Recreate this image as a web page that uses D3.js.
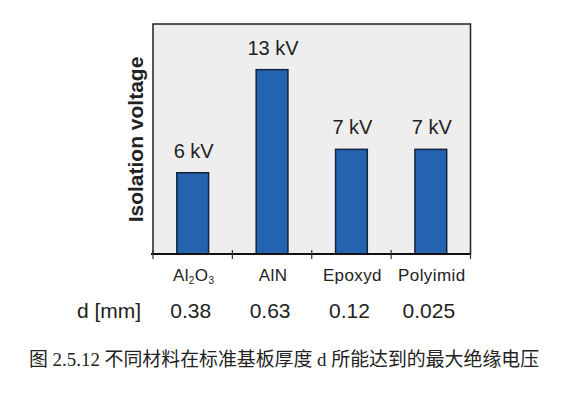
<!DOCTYPE html>
<html><head><meta charset="utf-8">
<script src="https://cdn.jsdelivr.net/npm/d3@7/dist/d3.min.js"></script>
<style>body{margin:0;background:#fff}svg{display:block}</style>
</head><body>
<script>
const categories = ["Al2O3", "AlN", "Epoxyd", "Polyimid"];
const barValues = [5.73, 13, 7.38, 7.38];       // bar heights on unlabelled kV axis
const valueLabels = ["6 kV", "13 kV", "7 kV", "7 kV"];
const thickness = ["0.38", "0.63", "0.12", "0.025"];
const yLabel = "Isolation voltage";
const rowLabel = "d [mm]";
const caption = "图 2.5.12 不同材料在标准基板厚度 d 所能达到的最大绝缘电压";

const W = 588, H = 395;
const svg = d3.select("body").append("svg").attr("width", W).attr("height", H);
const pLeft = 153, pRight = 470.5, pTop = 24, pBottom = 254;

const x = d3.scaleBand().domain(categories).range([pLeft, pRight]).padding(0);
const y = d3.scaleLinear().domain([0, 16.22]).range([pBottom, pTop]);

// plot background + frame
svg.append("rect").attr("x", pLeft).attr("y", pTop).attr("width", pRight - pLeft).attr("height", pBottom - pTop)
  .attr("fill", "#eeeeee").attr("stroke", "#222").attr("stroke-width", 1.5);

// bars
const bw = x.bandwidth() * 0.4;
svg.selectAll("rect.bar").data(categories).join("rect").attr("class", "bar")
  .attr("x", d => x(d) + x.bandwidth() / 2 - bw / 2)
  .attr("y", (d, i) => y(barValues[i]))
  .attr("width", bw)
  .attr("height", (d, i) => y(0) - y(barValues[i]))
  .attr("fill", "#2463b0").attr("stroke", "#13223d").attr("stroke-width", 1.5);

// value labels
svg.selectAll("text.val").data(categories).join("text").attr("class", "val")
  .attr("x", d => x(d) + x.bandwidth() / 2 + 1)
  .attr("y", (d, i) => y(barValues[i]) - 15)
  .attr("text-anchor", "middle")
  .attr("font-family", "Liberation Sans, Arial, sans-serif").attr("font-size", 20).attr("fill", "#222")
  .text((d, i) => valueLabels[i]);

// x axis with ticks at band boundaries
const axisG = svg.append("g");
axisG.append("line").attr("x1", pLeft - 2).attr("x2", pRight).attr("y1", pBottom).attr("y2", pBottom)
  .attr("stroke", "#111").attr("stroke-width", 2);
const tickXs = [pLeft].concat(categories.map(c => x(c) + x.bandwidth()));
axisG.selectAll("line.tick").data(tickXs).join("line").attr("class", "tick")
  .attr("x1", d => d).attr("x2", d => d).attr("y1", pBottom - 4).attr("y2", pBottom + 5)
  .attr("stroke", "#333").attr("stroke-width", 1.2);

// category labels
const catG = svg.selectAll("text.cat").data(categories).join("text").attr("class", "cat")
  .attr("x", d => x(d) + x.bandwidth() / 2 + 1)
  .attr("y", 281)
  .attr("text-anchor", "middle")
  .attr("font-family", "Liberation Sans, Arial, sans-serif").attr("font-size", 17).attr("fill", "#222")
  .attr("letter-spacing", 0.4);
catG.each(function (d) {
  const t = d3.select(this);
  if (d === "Al2O3") {
    t.append("tspan").text("Al");
    t.append("tspan").attr("font-size", 10).attr("dy", 3).text("2");
    t.append("tspan").attr("dy", -3).text("O");
    t.append("tspan").attr("font-size", 10).attr("dy", 3).text("3");
  } else {
    t.text(d);
  }
});

// thickness row
svg.append("text").attr("x", 77).attr("y", 318).attr("font-family", "Liberation Sans, Arial, sans-serif")
  .attr("font-size", 21).attr("fill", "#222").text(rowLabel);
svg.selectAll("text.thk").data(categories).join("text").attr("class", "thk")
  .attr("x", d => x(d) + x.bandwidth() / 2 - 2)
  .attr("y", 318)
  .attr("text-anchor", "middle")
  .attr("font-family", "Liberation Sans, Arial, sans-serif").attr("font-size", 21).attr("fill", "#222")
  .text((d, i) => thickness[i]);

// y label
svg.append("text").attr("transform", `translate(143,139.5) rotate(-90)`)
  .attr("text-anchor", "middle")
  .attr("font-family", "Liberation Sans, Arial, sans-serif").attr("font-size", 21).attr("font-weight", "bold")
  .attr("fill", "#222").text(yLabel);

// caption
svg.append("text").attr("x", 29).attr("y", 366)
  .attr("font-family", "Liberation Serif, Noto Sans CJK SC, serif").attr("font-size", 18.9)
  .attr("fill", "#222").text(caption);
</script>
</body></html>
